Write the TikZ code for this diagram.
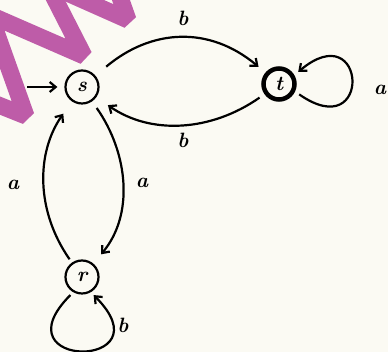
\documentclass[tikz,border=0pt]{standalone}
\usepackage{tikz}
\usepackage{xcolor}
\usetikzlibrary{arrows.meta, positioning}
\definecolor{wmPurple}{RGB}{190,92,168}
\definecolor{paperTone}{RGB}{251,250,243}
\tikzset{
    stNode/.style={circle, draw=black, line width=2.2pt, minimum size=33pt, inner sep=0pt, font=\huge\bfseries\itshape},
    finNode/.style={stNode, line width=4.5pt, minimum size=31pt},
    trLine/.style={->, line width=2.2pt},
    lblNode/.style={font=\huge\bfseries\itshape, inner sep=0pt},
    wmLine/.style={wmPurple, line width=17pt, line join=bevel}
}

\begin{document}
\begin{tikzpicture}[x=1pt, y=1pt, >={Straight Barb[length=6pt, width=10pt]}]
    \useasboundingbox (0,0) rectangle (388,352);
    \fill[paperTone] (0,0) rectangle (388,352);
    % --- watermark ---
    \begin{scope}
        \clip (0,0) rectangle (388,352);
        \draw[wmLine] (-92,283) -- (26,236) -- (-10,337) -- (84,296) -- (40,382);
        \draw[wmLine] (2,388) -- (128,332) -- (110,383);
    \end{scope}
    % --- states ---
    \node[stNode] (s) at (82,265) {s};
    \node[finNode] (t) at (279,268) {t};
    \node[stNode] (r) at (82,75) {r};
    \coordinate (init) at (27,265);
    % --- transitions ---
    \draw[trLine, shorten >=7pt] (init) -- (s);
    \draw[trLine, shorten <=14pt, shorten >=9pt] (s) to[out=40, in=140, looseness=1.1] (t);
    \draw[trLine, shorten <=6pt, shorten >=14pt] (t) to[out=215, in=-35] (s);
    \draw[trLine, shorten <=8pt, shorten >=12pt] (s) to[out=-55, in=50] (r);
    \draw[trLine, shorten <=4pt, shorten >=15pt] (r) to[out=125, in=235] (s);
    \draw[trLine, shorten <=5pt, shorten >=5pt] (t.-25) .. controls +(-35:95) and +(40:95) .. (t.30);
    \draw[trLine, shorten <=4pt, shorten >=4pt] (r.240) .. controls +(225:110) and +(-45:110) .. (r.-60);
    % --- labels ---
    \node[lblNode] (lbST) at (183,334) {b};
    \node[lblNode] (lbTS) at (183,212) {b};
    \node[lblNode] (lbTT) at (380,262) {a};
    \node[lblNode] (lbSR) at (142,169) {a};
    \node[lblNode] (lbRS) at (13,167) {a};
    \node[lblNode] (lbRR) at (123,27) {b};
\end{tikzpicture}
\end{document}
